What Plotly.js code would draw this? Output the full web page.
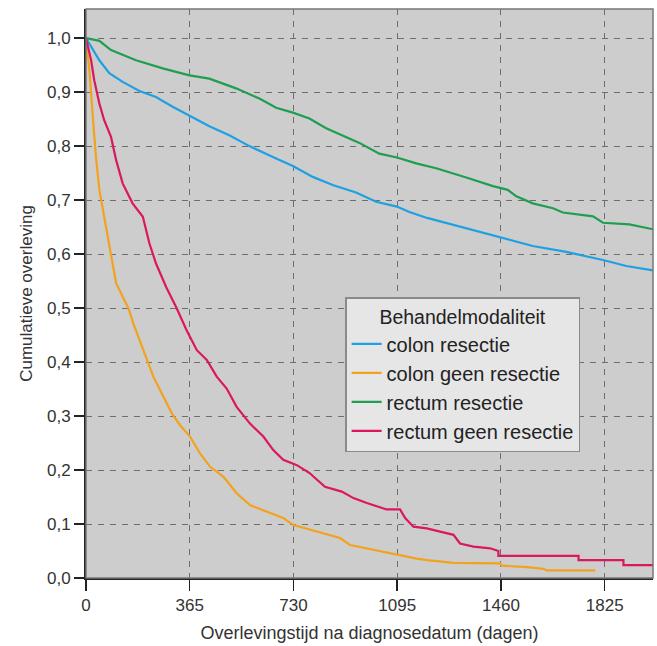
<!DOCTYPE html>
<html>
<head>
<meta charset="utf-8">
<script src="https://cdn.plot.ly/plotly-3.0.1.min.js"></script>
<style>html,body{margin:0;padding:0;background:#fff;}#chart{width:657px;height:646px;}</style>
</head>
<body>
<div id="chart"></div>
<script>
// Survival data (days, cumulative survival)
const colonResDays = [0, 23, 47, 82, 129, 188, 246, 305, 364, 434, 504, 575, 669, 728, 798, 868, 950, 1021, 1094, 1138, 1200, 1270, 1338, 1455, 1572, 1690, 1819, 1901, 1995];
const colonResSurv = [1.0, 0.981, 0.959, 0.935, 0.919, 0.902, 0.891, 0.873, 0.857, 0.837, 0.820, 0.800, 0.777, 0.763, 0.743, 0.728, 0.714, 0.697, 0.688, 0.678, 0.667, 0.657, 0.648, 0.631, 0.615, 0.604, 0.589, 0.578, 0.570];

const colonGeenDays = [0, 12, 23, 35, 47, 64, 76, 94, 106, 129, 150, 166, 202, 237, 272, 302, 331, 366, 401, 437, 483, 530, 577, 636, 694, 730, 788, 824, 894, 929, 1011, 1094, 1164, 1200, 1293, 1457, 1462, 1551, 1610, 1622, 1792];
const colonGeenSurv = [1.0, 0.941, 0.861, 0.780, 0.719, 0.669, 0.632, 0.583, 0.546, 0.521, 0.499, 0.472, 0.422, 0.373, 0.336, 0.305, 0.283, 0.262, 0.231, 0.206, 0.188, 0.157, 0.135, 0.123, 0.111, 0.098, 0.089, 0.084, 0.074, 0.061, 0.052, 0.043, 0.036, 0.033, 0.028, 0.027, 0.023, 0.020, 0.017, 0.014, 0.014];

const rectumResDays = [0, 47, 88, 176, 270, 364, 434, 528, 610, 669, 728, 786, 845, 904, 962, 1032, 1094, 1162, 1232, 1338, 1373, 1432, 1484, 1514, 1572, 1643, 1678, 1784, 1819, 1912, 1995];
const rectumResSurv = [1.0, 0.995, 0.978, 0.959, 0.944, 0.931, 0.925, 0.907, 0.888, 0.871, 0.862, 0.851, 0.833, 0.820, 0.806, 0.786, 0.779, 0.768, 0.759, 0.742, 0.736, 0.726, 0.719, 0.707, 0.694, 0.685, 0.677, 0.670, 0.658, 0.655, 0.646];

const rectumGeenDays = [0, 18, 29, 47, 64, 88, 106, 129, 164, 200, 223, 246, 282, 317, 354, 390, 425, 460, 495, 530, 577, 624, 659, 694, 742, 788, 800, 841, 900, 941, 988, 1058, 1105, 1123, 1152, 1199, 1246, 1293, 1316, 1363, 1422, 1451, 1451, 1733, 1733, 1891, 1891, 1997];
const rectumGeenSurv = [1.0, 0.959, 0.922, 0.879, 0.848, 0.817, 0.774, 0.731, 0.694, 0.669, 0.620, 0.583, 0.539, 0.502, 0.459, 0.422, 0.404, 0.373, 0.351, 0.317, 0.286, 0.262, 0.237, 0.219, 0.209, 0.194, 0.188, 0.169, 0.160, 0.148, 0.139, 0.127, 0.127, 0.111, 0.095, 0.092, 0.086, 0.080, 0.064, 0.058, 0.055, 0.050, 0.041, 0.041, 0.033, 0.033, 0.024, 0.024];

const seriesNames = ['colon resectie', 'colon geen resectie', 'rectum resectie', 'rectum geen resectie'];
const xTicks = [0, 365, 730, 1095, 1460, 1825];
const yTicks = [0, 0.1, 0.2, 0.3, 0.4, 0.5, 0.6, 0.7, 0.8, 0.9, 1.0];

const colors = ['#1fa0e2', '#f2a21e', '#1f9e50', '#db1760'];
const xs = [colonResDays, colonGeenDays, rectumResDays, rectumGeenDays];
const ys = [colonResSurv, colonGeenSurv, rectumResSurv, rectumGeenSurv];

const traces = seriesNames.map((n, i) => ({
  x: xs[i], y: ys[i], name: n, type: 'scatter', mode: 'lines',
  line: {color: colors[i], width: 2.2, shape: 'linear'}
}));

const font = "'Liberation Sans', Arial, sans-serif";
const layout = {
  width: 657, height: 646,
  margin: {l: 86, r: 4, t: 9, b: 68},
  paper_bgcolor: '#ffffff',
  plot_bgcolor: '#cdcdcd',
  separators: ',.',
  font: {family: font, color: '#222', size: 18},
  xaxis: {
    range: [0, 1995], tickvals: xTicks, ticktext: xTicks.map(String),
    showgrid: true, gridcolor: '#6e6e6e', griddash: '6px,6px', gridwidth: 1,
    zeroline: false, showline: true, linecolor: '#222', linewidth: 2,
    ticks: 'outside', ticklen: 11, tickcolor: '#222', tickwidth: 1.5,
    tickfont: {size: 17, color: '#333'},
    title: {text: 'Overlevingstijd na diagnosedatum (dagen)', font: {size: 18, color: '#333'}, standoff: 12}
  },
  yaxis: {
    range: [0, 1.054], tickvals: yTicks, tickformat: '.1f',
    showgrid: true, gridcolor: '#6e6e6e', griddash: '6px,6px', gridwidth: 1,
    zeroline: false, showline: true, linecolor: '#222', linewidth: 2,
    ticks: 'outside', ticklen: 10, tickcolor: '#222', tickwidth: 1.5,
    tickfont: {size: 17, color: '#333'},
    title: {text: 'Cumulatieve overleving', font: {size: 17, color: '#333'}, standoff: 10}
  },
  showlegend: true,
  legend: {
    x: 0.457, y: 0.493, xanchor: 'left', yanchor: 'top',
    bgcolor: '#e6e6e6', bordercolor: '#8a8a8a', borderwidth: 1.5,
    font: {size: 20, color: '#222'},
    title: {text: 'Behandelmodaliteit', side: 'top center', font: {size: 19.5, color: '#222'}},
    itemwidth: 30, tracegroupgap: 0
  },
  shapes: [
    {type: 'rect', xref: 'paper', yref: 'paper', x0: 0, x1: 1, y0: 0, y1: 1,
     line: {color: '#777', width: 1.5}, fillcolor: 'rgba(0,0,0,0)', layer: 'above'}
  ]
};

Plotly.newPlot('chart', traces, layout, {staticPlot: true, displayModeBar: false});
</script>
</body>
</html>
